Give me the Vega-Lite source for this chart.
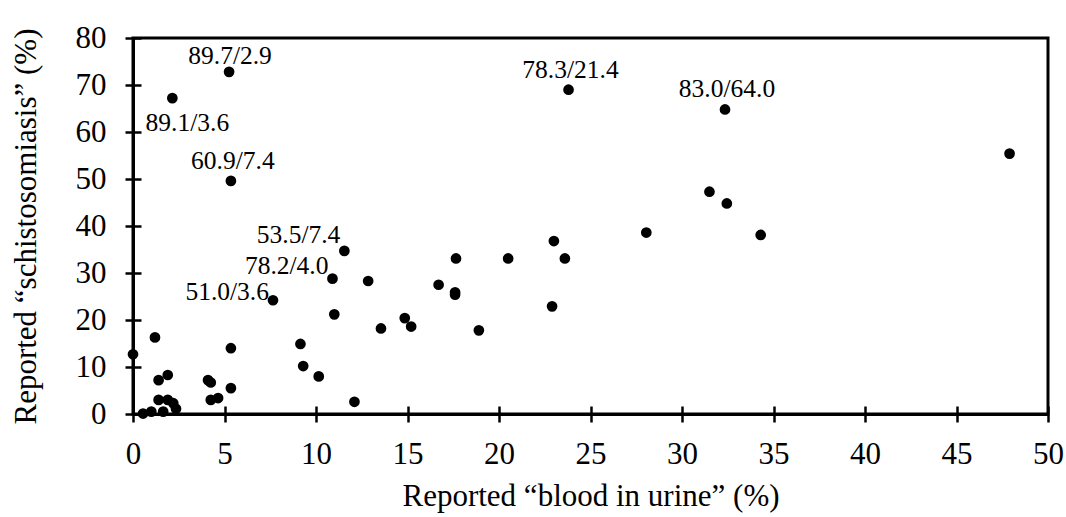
{
  "$schema": "https://vega.github.io/schema/vega-lite/v6.json",
  "autosize": "none",
  "padding": {"left": 133, "top": 38, "right": 18, "bottom": 103},
  "width": 915,
  "height": 376,
  "background": "white",
  "config": {
    "view": {"stroke": "black", "strokeWidth": 3},
    "font": "Liberation Serif",
    "axis": {
      "grid": false,
      "domainColor": "black",
      "domainWidth": 3,
      "tickColor": "black",
      "tickWidth": 2.5,
      "tickSize": 8,
      "labelColor": "black",
      "labelFont": "Liberation Serif",
      "labelFontSize": 31,
      "titleFont": "Liberation Serif",
      "titleFontSize": 31,
      "titleFontWeight": "normal",
      "titleColor": "black"
    }
  },
  "data": {
    "values": [
      {"blood": 0.0, "schisto": 12.7, "label": ""},
      {"blood": 1.2, "schisto": 16.3, "label": ""},
      {"blood": 1.4, "schisto": 7.2, "label": ""},
      {"blood": 1.9, "schisto": 8.3, "label": ""},
      {"blood": 1.4, "schisto": 3.0, "label": ""},
      {"blood": 1.9, "schisto": 3.0, "label": ""},
      {"blood": 2.2, "schisto": 2.3, "label": ""},
      {"blood": 2.35, "schisto": 1.1, "label": ""},
      {"blood": 0.55, "schisto": 0.1, "label": ""},
      {"blood": 1.0, "schisto": 0.5, "label": ""},
      {"blood": 1.65, "schisto": 0.5, "label": ""},
      {"blood": 4.1, "schisto": 7.2, "label": ""},
      {"blood": 4.25, "schisto": 6.7, "label": ""},
      {"blood": 4.25, "schisto": 3.0, "label": ""},
      {"blood": 4.65, "schisto": 3.4, "label": ""},
      {"blood": 5.35, "schisto": 14.0, "label": ""},
      {"blood": 5.35, "schisto": 5.5, "label": ""},
      {"blood": 9.15, "schisto": 14.9, "label": ""},
      {"blood": 9.3, "schisto": 10.2, "label": ""},
      {"blood": 10.15, "schisto": 8.0, "label": ""},
      {"blood": 12.1, "schisto": 2.6, "label": ""},
      {"blood": 5.35, "schisto": 49.6, "label": "60.9/7.4"},
      {"blood": 11.55, "schisto": 34.7, "label": "53.5/7.4"},
      {"blood": 10.9, "schisto": 28.8, "label": "78.2/4.0"},
      {"blood": 12.85, "schisto": 28.3, "label": ""},
      {"blood": 7.65, "schisto": 24.2, "label": "51.0/3.6"},
      {"blood": 11.0, "schisto": 21.2, "label": ""},
      {"blood": 5.25, "schisto": 72.8, "label": "89.7/2.9"},
      {"blood": 2.15, "schisto": 67.2, "label": "89.1/3.6"},
      {"blood": 13.55, "schisto": 18.2, "label": ""},
      {"blood": 14.85, "schisto": 20.4, "label": ""},
      {"blood": 15.2, "schisto": 18.6, "label": ""},
      {"blood": 17.65, "schisto": 33.1, "label": ""},
      {"blood": 16.7, "schisto": 27.5, "label": ""},
      {"blood": 17.6, "schisto": 25.9, "label": ""},
      {"blood": 17.6, "schisto": 25.4, "label": ""},
      {"blood": 18.9, "schisto": 17.8, "label": ""},
      {"blood": 20.5, "schisto": 33.1, "label": ""},
      {"blood": 23.0, "schisto": 36.8, "label": ""},
      {"blood": 23.6, "schisto": 33.1, "label": ""},
      {"blood": 22.9, "schisto": 22.9, "label": ""},
      {"blood": 23.8, "schisto": 69.0, "label": "78.3/21.4"},
      {"blood": 32.35, "schisto": 64.8, "label": "83.0/64.0"},
      {"blood": 47.9, "schisto": 55.4, "label": ""},
      {"blood": 31.5, "schisto": 47.3, "label": ""},
      {"blood": 32.45, "schisto": 44.8, "label": ""},
      {"blood": 28.05, "schisto": 38.6, "label": ""},
      {"blood": 34.3, "schisto": 38.1, "label": ""}
    ]
  },
  "layer": [
    {
      "mark": {"type": "circle", "size": 115, "color": "black", "opacity": 1},
      "encoding": {
        "x": {"field": "blood", "type": "quantitative", "scale": {"domain": [0, 50], "nice": false, "zero": false},
              "axis": {"orient": "bottom", "title": "Reported “blood in urine” (%)", "values": [0,5,10,15,20,25,30,35,40,45,50], "labelPadding": 17, "titlePadding": 12, "labelFlush": false, "labelOverlap": false}},
        "y": {"field": "schisto", "type": "quantitative", "scale": {"domain": [0, 80], "nice": false, "zero": false},
              "axis": {"orient": "left", "title": "Reported “schistosomiasis” (%)", "values": [0,10,20,30,40,50,60,70,80], "labelPadding": 19, "titlePadding": 33, "labelFlush": false, "labelOverlap": false}}
      }
    },
    {
      "mark": {"type": "circle", "size": 1, "opacity": 0},
      "encoding": {
        "x": {"field": "blood", "type": "quantitative", "scale": {"domain": [0, 50], "nice": false, "zero": false},
              "axis": {"orient": "bottom", "title": null, "labels": false, "domain": false, "tickSize": -8, "values": [0,5,10,15,20,25,30,35,40,45,50]}},
        "y": {"field": "schisto", "type": "quantitative", "scale": {"domain": [0, 80], "nice": false, "zero": false},
              "axis": {"orient": "left", "title": null, "labels": false, "domain": false, "tickSize": -8, "values": [0,10,20,30,40,50,60,70,80]}}
      }
    },
    {
      "transform": [{"filter": "datum.label == '89.7/2.9'"}],
      "mark": {"type": "text", "fontSize": 25.5, "font": "Liberation Serif", "color": "black", "align": "center", "baseline": "middle", "dx": 1, "dy": -16},
      "encoding": {
        "x": {"field": "blood", "type": "quantitative", "scale": {"domain": [0, 50], "nice": false, "zero": false}, "axis": null},
        "y": {"field": "schisto", "type": "quantitative", "scale": {"domain": [0, 80], "nice": false, "zero": false}, "axis": null},
        "text": {"field": "label"}
      }
    },
    {
      "transform": [{"filter": "datum.label == '89.1/3.6'"}],
      "mark": {"type": "text", "fontSize": 25.5, "font": "Liberation Serif", "color": "black", "align": "center", "baseline": "middle", "dx": 15, "dy": 25},
      "encoding": {
        "x": {"field": "blood", "type": "quantitative", "scale": {"domain": [0, 50], "nice": false, "zero": false}, "axis": null},
        "y": {"field": "schisto", "type": "quantitative", "scale": {"domain": [0, 80], "nice": false, "zero": false}, "axis": null},
        "text": {"field": "label"}
      }
    },
    {
      "transform": [{"filter": "datum.label == '60.9/7.4' || datum.label == '78.3/21.4' || datum.label == '83.0/64.0'"}],
      "mark": {"type": "text", "fontSize": 25.5, "font": "Liberation Serif", "color": "black", "align": "center", "baseline": "middle", "dx": 2, "dy": -20},
      "encoding": {
        "x": {"field": "blood", "type": "quantitative", "scale": {"domain": [0, 50], "nice": false, "zero": false}, "axis": null},
        "y": {"field": "schisto", "type": "quantitative", "scale": {"domain": [0, 80], "nice": false, "zero": false}, "axis": null},
        "text": {"field": "label"}
      }
    },
    {
      "transform": [{"filter": "datum.label == '53.5/7.4'"}],
      "mark": {"type": "text", "fontSize": 25.5, "font": "Liberation Serif", "color": "black", "align": "right", "baseline": "middle", "dx": -4, "dy": -16},
      "encoding": {
        "x": {"field": "blood", "type": "quantitative", "scale": {"domain": [0, 50], "nice": false, "zero": false}, "axis": null},
        "y": {"field": "schisto", "type": "quantitative", "scale": {"domain": [0, 80], "nice": false, "zero": false}, "axis": null},
        "text": {"field": "label"}
      }
    },
    {
      "transform": [{"filter": "datum.label == '78.2/4.0'"}],
      "mark": {"type": "text", "fontSize": 25.5, "font": "Liberation Serif", "color": "black", "align": "right", "baseline": "middle", "dx": -4, "dy": -13},
      "encoding": {
        "x": {"field": "blood", "type": "quantitative", "scale": {"domain": [0, 50], "nice": false, "zero": false}, "axis": null},
        "y": {"field": "schisto", "type": "quantitative", "scale": {"domain": [0, 80], "nice": false, "zero": false}, "axis": null},
        "text": {"field": "label"}
      }
    },
    {
      "transform": [{"filter": "datum.label == '51.0/3.6'"}],
      "mark": {"type": "text", "fontSize": 25.5, "font": "Liberation Serif", "color": "black", "align": "right", "baseline": "middle", "dx": -4, "dy": -8},
      "encoding": {
        "x": {"field": "blood", "type": "quantitative", "scale": {"domain": [0, 50], "nice": false, "zero": false}, "axis": null},
        "y": {"field": "schisto", "type": "quantitative", "scale": {"domain": [0, 80], "nice": false, "zero": false}, "axis": null},
        "text": {"field": "label"}
      }
    }
  ],
  "resolve": {"scale": {"x": "independent", "y": "independent"}, "axis": {"x": "independent", "y": "independent"}}
}
